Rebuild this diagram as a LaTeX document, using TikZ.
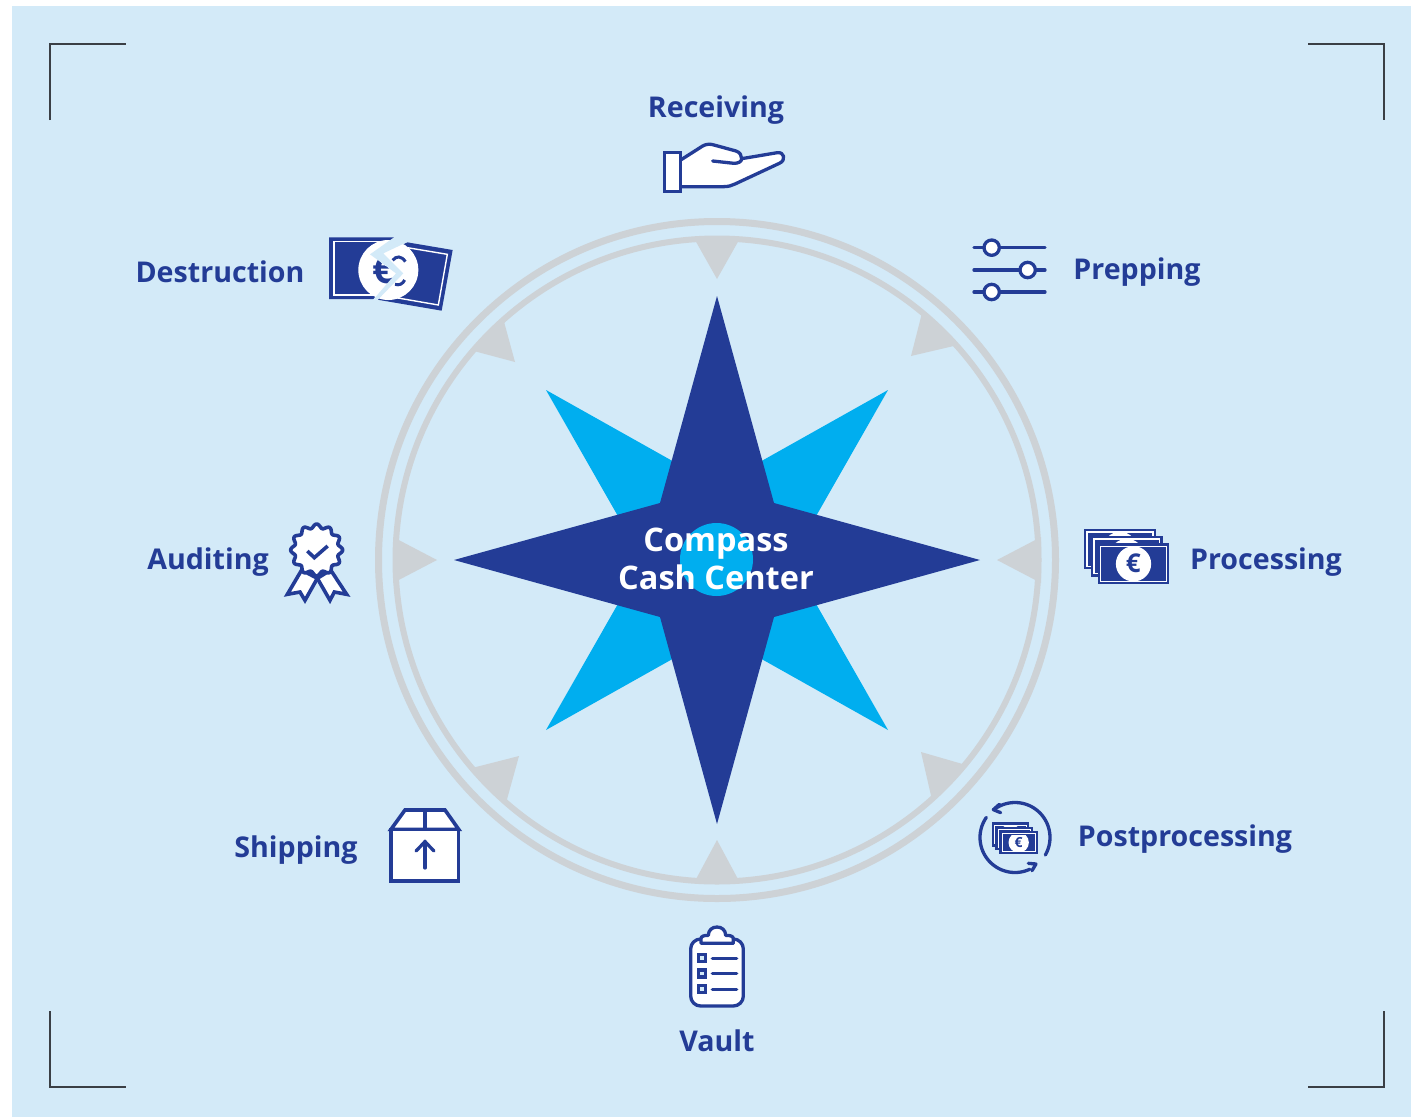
\documentclass[tikz,border=0pt]{standalone}
\usepackage{fontspec}
\setmainfont{Open Sans}
\definecolor{bgblue}{HTML}{D3EAF8}
\definecolor{navy}{HTML}{233C96}
\definecolor{cyanstar}{HTML}{00AEEF}
\definecolor{ringgray}{HTML}{CDD2D6}
\definecolor{markdark}{HTML}{3A3F45}
\tikzset{
  zm/.style 2 args={shift={(#1,#2)},x=0.33333pt,y=-0.33333pt},
  lbl/.style={text=navy,font=\fontsize{28.6}{32}\selectfont\bfseries,inner sep=0pt,anchor=center},
  ctr/.style={text=white,font=\fontsize{32.5}{36}\selectfont\bfseries,inner sep=0pt,anchor=center},
  ring/.style={draw=ringgray},
  pointer/.style={fill=ringgray,draw=none},
  cropmark/.style={draw=markdark,line width=1.1pt,line cap=butt,line join=miter},
  iconline/.style={draw=navy,line width=#1,line cap=round,line join=round},
  iconline/.default=3.3pt,
}
\newcommand{\billnote}[5]{%
  \pgfmathsetmacro{\bcx}{(#1+#3)/2}\pgfmathsetmacro{\bcy}{(#2+#4)/2}\pgfmathsetmacro{\brr}{(#4-#2)*0.43}
  \fill[navy] (#1,#2) rectangle (#3,#4);
  \draw[white,line width=#5] ({#1+9},{#2+9}) rectangle ({#3-9},{#4-9});
  \begin{scope}
    \clip ({#1+13},{#2+13}) rectangle ({#3-13},{#4-13});
    \fill[white] (\bcx,\bcy) circle[radius=\brr];
  \end{scope}
}
\begin{document}
\begin{tikzpicture}[x=1pt,y=-1pt]
\useasboundingbox (0,0) rectangle (1411,1117);
\fill[white] (0,0) rectangle (1411,1117);
\fill[bgblue] (12,6) rectangle (1411,1117);
% crop marks
\draw[cropmark] (50,120) -- (50,44) -- (126,44);
\draw[cropmark] (1308,44) -- (1384,44) -- (1384,120);
\draw[cropmark] (50,1011) -- (50,1087) -- (126,1087);
\draw[cropmark] (1308,1087) -- (1384,1087) -- (1384,1011);
% rings
\draw[ring,line width=7pt] (717,560) circle[radius=338.5pt];
\draw[ring,line width=6pt] (717,560) circle[radius=321.5pt];
% pointers
\fill[pointer] (695,240) -- (739,240) -- (717,279) -- cycle;
\fill[pointer] (911,356) -- (922,313) -- (958,345) -- cycle;
\fill[pointer] (997,560) -- (1041,537) -- (1041,583) -- cycle;
\fill[pointer] (921,752) -- (966,765) -- (932,800) -- cycle;
\fill[pointer] (717,840) -- (695,881) -- (739,881) -- cycle;
\fill[pointer] (519,756) -- (472,768) -- (506,803) -- cycle;
\fill[pointer] (437,560) -- (393,537) -- (393,583) -- cycle;
\fill[pointer] (515,362) -- (470,350) -- (503,318) -- cycle;
% stars
\fill[cyanstar] (546,390) -- (717,486) -- (888,390) -- (791,560) -- (888,730) -- (717,634) -- (546,730) -- (643,560) -- cycle;
\fill[navy] (717,296) -- (774,503) -- (980,560) -- (774,617) -- (717,824) -- (660,617) -- (454,560) -- (660,503) -- cycle;
\fill[cyanstar] (716.5,559.5) circle[radius=36.5pt];
\node[ctr] (compass) at (716,544) {Compass};
\node[ctr] (cashcenter) at (716,577) {Cash Center};
% labels
\node[lbl] (receiving) at (716,110) {Receiving};
\node[lbl] (destruction) at (220,272) {Destruction};
\node[lbl] (prepping) at (1137,272) {Prepping};
\node[lbl] (processing) at (1266,562) {Processing};
\node[lbl] (postprocessing) at (1185,839) {Postprocessing};
\node[lbl] (vault) at (717,1041) {Vault};
\node[lbl] (shipping) at (296,850) {Shipping};
\node[lbl] (auditing) at (208,562) {Auditing};
% hand icon
\begin{scope}[zm={640}{80}]
  \draw[iconline,fill=white] (122,240) -- (188,198) .. controls (200,191) and (212,192) .. (222,195) -- (288,213) .. controls (300,217) and (305,226) .. (305,236) -- (412,218) .. controls (432,215) and (440,240) .. (418,250) -- (285,312) .. controls (275,317) and (265,320) .. (250,320) -- (122,320);
  \draw[iconline] (218,243) -- (282,250) .. controls (295,250) and (305,245) .. (305,236);
  \draw[iconline,fill=white,line join=miter] (73,217) rectangle (121,334);
\end{scope}
% destruction icon
\begin{scope}[zm={320}{225}]
  \fill[navy] (27,37) -- (225,37) -- (150,88) -- (228,145) -- (160,222) -- (27,222) -- cycle;
  \fill[navy] (262,52) -- (398,75) -- (365,257) -- (172,224) -- (250,145) -- (190,85) -- cycle;
  \draw[white,line width=1.4pt] (195,50) -- (42,50) -- (42,210) -- (165,210);
  \draw[white,line width=1.4pt] (262,68) -- (382,88) -- (355,240) -- (205,214);
  \fill[white] (205,135) circle[radius=90];
  \begin{scope}
    \clip (100,30) -- (225,37) -- (150,88) -- (228,145) -- (160,222) -- (100,222) -- cycle;
    \node[text=navy,font=\fontsize{38}{38}\selectfont\bfseries,inner sep=0pt] (destructioneuro) at (190,134) {€};
  \end{scope}
  \draw[navy,line width=3pt] (218,106) .. controls (228,92) and (245,92) .. (256,110);
  \draw[navy,line width=3pt] (225,178) .. controls (238,182) and (248,177) .. (254,165);
  \fill[bgblue] (225,35) -- (264,50) -- (190,85) -- (250,145) -- (172,226) -- (158,226) -- (228,145) -- (150,88) -- cycle;
\end{scope}
% prepping icon
\begin{scope}[zm={960}{225}]
  \draw[iconline] (42,68) -- (255,68);
  \draw[iconline] (42,135) -- (255,135);
  \draw[iconline] (42,201) -- (255,201);
  \draw[iconline,fill=white] (95,68) circle[radius=23];
  \draw[iconline,fill=white] (203,135) circle[radius=23];
  \draw[iconline,fill=white] (95,201) circle[radius=23];
\end{scope}
% processing icon
\begin{scope}[zm={1075}{520}]
  \billnote{27}{27}{243}{148}{1.6pt}
  \billnote{48}{48}{263}{170}{1.6pt}
  \billnote{68}{70}{283}{193}{1.6pt}
  \node[text=navy,font=\fontsize{26}{26}\selectfont\bfseries,inner sep=0pt] (processingeuro) at (175,131) {€};
\end{scope}
% postprocessing icon
\begin{scope}[zm={970}{795}]
  \billnote{65}{82}{178}{155}{1pt}
  \billnote{76}{95}{190}{166}{1pt}
  \billnote{87}{107}{205}{178}{1pt}
  \node[text=navy,font=\fontsize{14}{14}\selectfont\bfseries,inner sep=0pt] (posteuro) at (146,142) {€};
\end{scope}
\draw[iconline] plot[domain=30:-125,samples=40] ({1015+35*cos(\x)},{837.5+35*sin(\x)});
\draw[iconline] plot[domain=-145:-295,samples=40] ({1015+35*cos(\x)},{837.5+35*sin(\x)});
\begin{scope}[zm={970}{795}]
  \draw[iconline] (88,28) -- (70,44) -- (92,53);
  \draw[iconline] (175,205) -- (198,207) -- (186,227);
\end{scope}
% vault icon
\begin{scope}[zm={675}{920}]
  \draw[iconline,fill=white,rounded corners=10pt] (47,57) rectangle (205,258);
  \draw[iconline,fill=white] (78,70) -- (78,56) .. controls (78,48) and (88,46) .. (100,46) .. controls (100,30) and (112,21) .. (126,21) .. controls (140,21) and (152,30) .. (152,46) .. controls (165,46) and (175,48) .. (175,56) -- (175,70) -- cycle;
  \draw[navy,line width=3.3pt,line join=miter,fill=bgblue] (70,103) rectangle (91,124);
  \draw[navy,line width=3.3pt,line join=miter,fill=bgblue] (70,150) rectangle (91,171);
  \draw[navy,line width=3.3pt,line join=miter,fill=bgblue] (70,197) rectangle (91,218);
  \draw[iconline] (112,115) -- (185,115);
  \draw[iconline] (112,161) -- (185,161);
  \draw[iconline] (112,208) -- (185,208);
\end{scope}
% shipping icon
\begin{scope}[zm={380}{800}]
  \draw[iconline,fill=white,line join=miter,line width=3.6pt] (33,88) -- (75,30) -- (195,30) -- (236,88) -- cycle;
  \draw[iconline,fill=white,line join=miter,line width=3.6pt] (33,88) rectangle (236,243);
  \draw[iconline,line cap=butt,line width=3.6pt] (135,30) -- (135,88);
  \draw[iconline] (135,204) -- (135,125);
  \draw[iconline,line join=miter] (108,153) -- (135,125) -- (162,153);
\end{scope}
% auditing icon
\begin{scope}[zm={280}{515}]
  \draw[iconline,fill=white,line join=miter,line width=3.6pt] (65,165) -- (22,238) -- (60,231) -- (75,256) -- (112,190) -- cycle;
  \draw[iconline,fill=white,line join=miter,line width=3.6pt] (152,165) -- (200,238) -- (163,231) -- (150,256) -- (112,190) -- cycle;
  \draw[iconline,fill=white,line width=3.6pt] plot[domain=0:360,samples=145,smooth] ({110+(72+6*cos(12*\x))*cos(\x)},{105+(72+6*cos(12*\x))*sin(\x)}) -- cycle;
  \draw[navy,line width=3.6pt,line join=miter] (82,108) -- (103,128) -- (143,93);
\end{scope}
\end{tikzpicture}
\end{document}
